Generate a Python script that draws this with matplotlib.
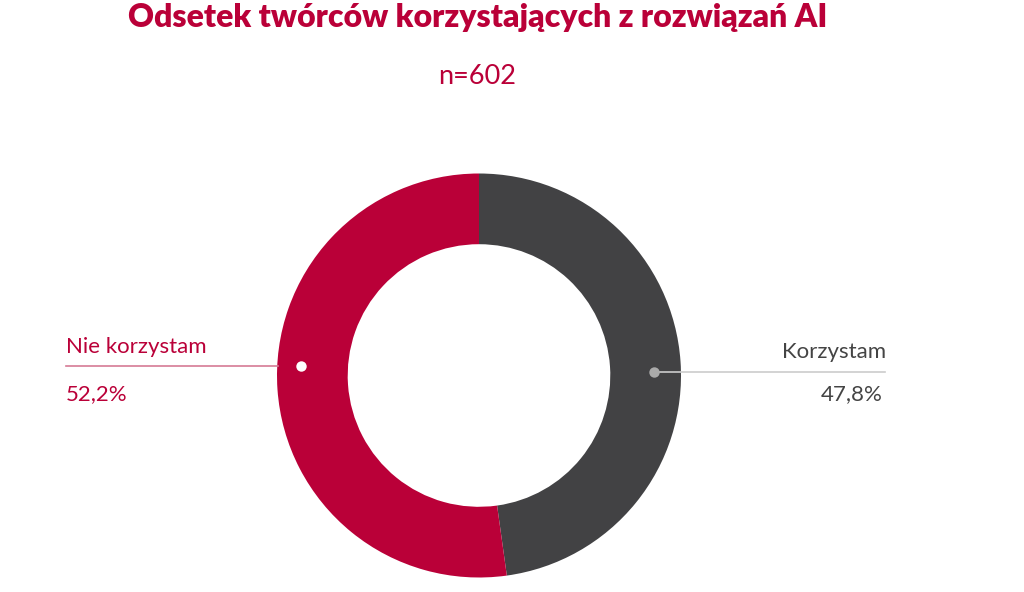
import matplotlib
matplotlib.use("Agg")
import matplotlib.pyplot as plt

plt.rcParams['font.family'] = ['Lato', 'DejaVu Sans']

title = "Odsetek twórców korzystających z rozwiązań AI"
subtitle = "n=602"
categories = ["Korzystam", "Nie korzystam"]
values = [47.8, 52.2]
colors = ["#424244", "#BA0038"]
value_labels = ["47,8%", "52,2%"]

W, H = 1024, 592
fig = plt.figure(figsize=(W / 100, H / 100), dpi=100)
fig.patch.set_facecolor("white")

cx, cy, R = 479, 375.5, 202
ax = fig.add_axes([(cx - R) / W, (H - cy - R) / H, 2 * R / W, 2 * R / H])
ax.pie(values, colors=colors, startangle=90, counterclock=False,
       wedgeprops=dict(width=0.35, edgecolor="none"), radius=1.0)
ax.set_xlim(-1, 1)
ax.set_ylim(-1, 1)
ax.set_aspect("equal")
ax.axis("off")

def px(x, y):
    # pixel (from top-left) -> data coords of pie axes
    return (x - cx) / R, (cy - y) / R

# right label line + dot (Korzystam)
x0, y0 = px(654, 371.5)
x1, _ = px(885, 371.5)
ax.plot([x0, x1], [y0, y0], color="#CCCCCC", lw=1.2, clip_on=False, zorder=3)
ax.plot([x0], [y0], "o", color="#AAAAAA", ms=7.5, mec="none", clip_on=False, zorder=4)

# left label line + dot (Nie korzystam)
xa, ya = px(66, 366)
xb, _ = px(278, 366)
xd, _ = px(301, 366)
ax.plot([xa, xb], [ya, ya], color="#D67A95", lw=1.2, clip_on=False, zorder=3)
ax.plot([xd], [ya], "o", color="white", ms=7.5, mec="none", clip_on=False, zorder=4)

def ft(x, y, s, **kw):
    fig.text(x / W, 1 - y / H, s, **kw)

ft(478, 18, title, ha="center", va="center", fontsize=23, fontweight="heavy", color="#BA0038")
ft(477, 76, subtitle, ha="center", va="center", fontsize=19.5, color="#BA0038")

ft(66, 353, categories[1], ha="left", va="baseline", fontsize=16, color="#BA0038")
ft(66, 400, value_labels[1], ha="left", va="baseline", fontsize=16, color="#BA0038")
ft(886, 358, categories[0], ha="right", va="baseline", fontsize=16, color="#444444")
ft(883, 400, value_labels[0], ha="right", va="baseline", fontsize=16, color="#444444")

fig.savefig("out.png", dpi=100, facecolor="white")
